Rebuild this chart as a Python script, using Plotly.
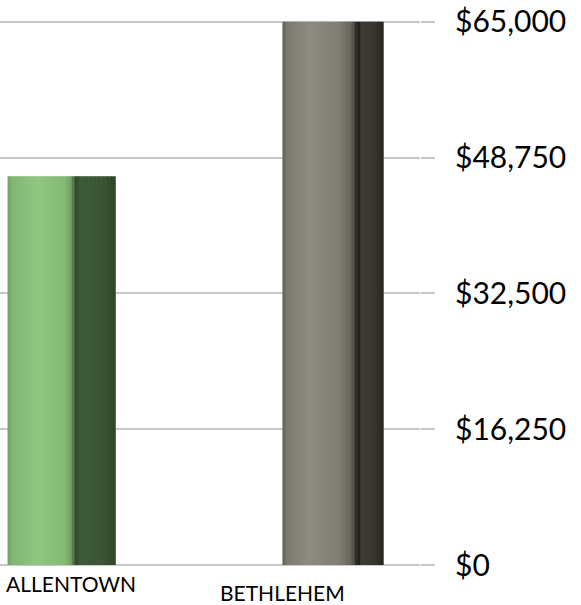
import plotly.graph_objects as go

# ---- data ----
categories = ["ALLENTOWN", "BETHLEHEM"]
values = [46500, 65000]
tick_values = [0, 16250, 32500, 48750, 65000]
tick_labels = ["$0", "$16,250", "$32,500", "$48,750", "$65,000"]

# ---- style: shading stops (position 0..1 across face, hex colour) ----
front_stops = [
    [(0.0, "#6c9f5f"), (0.06, "#80b671"), (0.45, "#91c682"), (0.85, "#85ba76"), (0.96, "#6f9e62"), (1.0, "#3c5a36")],
    [(0.0, "#5f5d55"), (0.06, "#7d7a6f"), (0.35, "#8d8a7e"), (0.75, "#817e73"), (0.92, "#66645b"), (1.0, "#1b1a18")],
]
side_stops = [
    [(0.0, "#2e472a"), (0.15, "#3e5b38"), (0.7, "#3a5534"), (1.0, "#2f452b")],
    [(0.0, "#141412"), (0.15, "#3d3c37"), (0.7, "#36352f"), (1.0, "#26251f")],
]
front_w = [0.24, 0.27]
side_w = [0.145, 0.09]
n_front = 24
n_side = 10


def interp(stops, t):
    for (p0, c0), (p1, c1) in zip(stops[:-1], stops[1:]):
        if p0 <= t <= p1:
            f = 0 if p1 == p0 else (t - p0) / (p1 - p0)
            a = [int(c0[j:j + 2], 16) for j in (1, 3, 5)]
            b = [int(c1[j:j + 2], 16) for j in (1, 3, 5)]
            return "rgb(%d,%d,%d)" % tuple(round(a[m] + (b[m] - a[m]) * f) for m in range(3))
    return stops[-1][1]


xs = list(range(len(categories)))
fig = go.Figure()


def add_face(stops, n, starts, widths):
    for k in range(n):
        t = (k + 0.5) / n
        fig.add_trace(go.Bar(
            x=xs, y=values,
            width=[w / n + 0.003 for w in widths],
            offset=[s + k * w / n for s, w in zip(starts, widths)],
            marker=dict(color=[interp(stops[i], t) for i in range(len(xs))], line=dict(width=0)),
            showlegend=False, hoverinfo="skip",
        ))


add_face(front_stops, n_front, [-w / 2 for w in front_w], front_w)
add_face(side_stops, n_side, [w / 2 for w in front_w], side_w)

label_shift = [30, -38]
label_yshift = [-18, -27]
for i, c in enumerate(categories):
    fig.add_annotation(x=xs[i], y=0, xref="x", yref="y", text=c, showarrow=False,
                       xshift=label_shift[i], yshift=label_yshift[i],
                       font=dict(family="Lato", size=21, color="#000"))

fig.update_layout(
    width=581, height=605,
    margin=dict(l=0, r=161, t=10, b=40),
    paper_bgcolor="white", plot_bgcolor="white",
    barmode="overlay",
    xaxis=dict(range=[-0.147, 1.358], showticklabels=False, showgrid=False,
               zeroline=False, showline=False, fixedrange=True),
    yaxis=dict(range=[0, 66400], side="right", tickvals=tick_values, ticktext=tick_labels,
               showgrid=True, gridcolor="#c8c8c8", gridwidth=2,
               zeroline=True, zerolinecolor="#c8c8c8", zerolinewidth=2,
               showline=False, ticks="outside", ticklen=14, tickcolor="#c8c8c8", tickwidth=2,
               ticklabelstandoff=14,
               tickfont=dict(family="Lato", size=30, color="#000")),
)

fig.write_html("out.html", config={"displayModeBar": False},
               post_script="document.body.style.margin='0';document.body.style.overflow='hidden';")
